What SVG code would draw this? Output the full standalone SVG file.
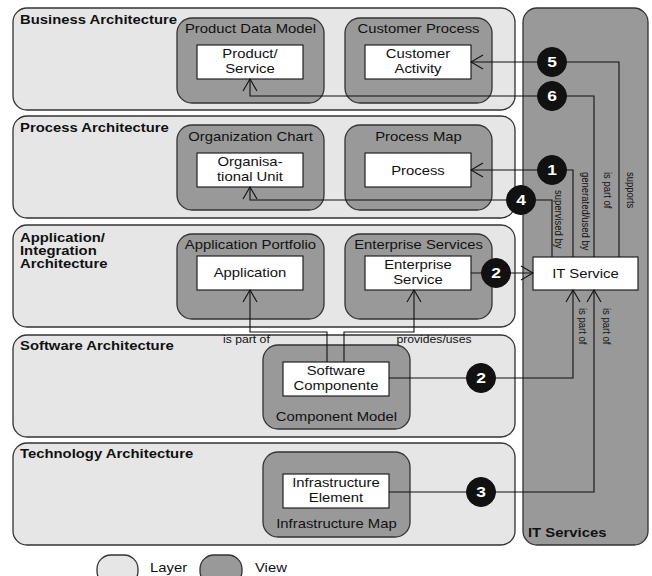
<svg xmlns="http://www.w3.org/2000/svg" width="652" height="576" viewBox="0 0 652 576">
<style>
.layer{fill:#e6e6e6;stroke:#333;stroke-width:1.3}
.view{fill:#999;stroke:#333;stroke-width:1.3}
.box{fill:#fff;stroke:#222;stroke-width:1.2}
.conn{fill:none;stroke:#111;stroke-width:1.1}
.dot{fill:#111;stroke:#111}
text{font-family:"Liberation Sans",Arial,Helvetica,sans-serif;fill:#111}
.t{font-size:12.8px;text-anchor:middle;transform-box:fill-box;transform-origin:center;transform:scaleX(1.16)}
.ttl{font-size:12.8px;font-weight:bold;transform-box:fill-box;transform-origin:0 50%;transform:scaleX(1.16)}
.leg{font-size:12.8px;transform-box:fill-box;transform-origin:0 50%;transform:scaleX(1.16)}
.lab{font-size:10.5px;text-anchor:middle;transform-box:fill-box;transform-origin:center;transform:scaleX(1.16)}
.rl{font-size:9.5px}
.num{font-size:15px;font-weight:bold;fill:#fff;text-anchor:middle;transform-box:fill-box;transform-origin:center;transform:scaleX(1.16)}
</style>
<defs>
<marker id="arr" viewBox="-14 -8 15 16" refX="0" refY="0" markerWidth="15" markerHeight="16" markerUnits="userSpaceOnUse" orient="auto">
<path d="M-12,-7 L0,0 L-12,7" fill="none" stroke="#111" stroke-width="1.1"/>
</marker>
</defs>

<g id="layer-business"><rect class="layer" x="13" y="8" width="502" height="102" rx="14"/><text class="ttl" x="20" y="24">Business Architecture</text></g>
<g id="layer-process"><rect class="layer" x="13" y="116" width="502" height="102" rx="14"/><text class="ttl" x="20" y="132">Process Architecture</text></g>
<g id="layer-application"><rect class="layer" x="13" y="225" width="502" height="102" rx="14"/><text class="ttl" x="20" y="242">Application/</text><text class="ttl" x="20" y="255">Integration</text><text class="ttl" x="20" y="268">Architecture</text></g>
<g id="layer-software"><rect class="layer" x="13" y="335" width="502" height="102" rx="14"/><text class="ttl" x="20" y="350">Software Architecture</text></g>
<g id="layer-technology"><rect class="layer" x="13" y="443" width="502" height="102" rx="14"/><text class="ttl" x="20" y="458">Technology Architecture</text></g>
<g id="it-services"><rect class="view" x="523" y="8" width="125" height="537" rx="14"/><text class="ttl" x="528" y="537">IT Services</text></g>

<g id="view-product-data-model"><rect class="view" x="177" y="18" width="147" height="85" rx="15"/><text class="t" x="250.5" y="33.5">Product Data Model</text></g>
<g id="view-customer-process"><rect class="view" x="345" y="18" width="147" height="85" rx="15"/><text class="t" x="418.5" y="33.5">Customer Process</text></g>
<g id="view-organization-chart"><rect class="view" x="177" y="125" width="147" height="85" rx="15"/><text class="t" x="250.5" y="141">Organization Chart</text></g>
<g id="view-process-map"><rect class="view" x="345" y="125" width="147" height="85" rx="15"/><text class="t" x="418.5" y="141">Process Map</text></g>
<g id="view-application-portfolio"><rect class="view" x="177" y="234" width="147" height="85" rx="15"/><text class="t" x="250.5" y="249">Application Portfolio</text></g>
<g id="view-enterprise-services"><rect class="view" x="345" y="234" width="147" height="85" rx="15"/><text class="t" x="418.5" y="249">Enterprise Services</text></g>
<g id="view-component-model"><rect class="view" x="263" y="345" width="147" height="84" rx="15"/><text class="t" x="336.5" y="421">Component Model</text></g>
<g id="view-infrastructure-map"><rect class="view" x="263" y="452" width="147" height="85" rx="15"/><text class="t" x="336.5" y="528">Infrastructure Map</text></g>

<g id="product-service"><rect class="box" x="197" y="45" width="106" height="34"/><text class="t" x="250" y="58">Product/</text><text class="t" x="250" y="73">Service</text></g>
<g id="customer-activity"><rect class="box" x="365" y="45" width="106" height="34"/><text class="t" x="418" y="58">Customer</text><text class="t" x="418" y="73">Activity</text></g>
<g id="organisational-unit"><rect class="box" x="197" y="153" width="106" height="34"/><text class="t" x="250" y="166">Organisa-</text><text class="t" x="250" y="181">tional Unit</text></g>
<g id="process"><rect class="box" x="365" y="153" width="106" height="34"/><text class="t" x="418" y="175">Process</text></g>
<g id="application"><rect class="box" x="197" y="256" width="106" height="34"/><text class="t" x="250" y="277">Application</text></g>
<g id="enterprise-service"><rect class="box" x="365" y="256" width="106" height="34"/><text class="t" x="418" y="269">Enterprise</text><text class="t" x="418" y="284">Service</text></g>
<g id="software-componente"><rect class="box" x="283" y="362" width="106" height="34"/><text class="t" x="336" y="375">Software</text><text class="t" x="336" y="390">Componente</text></g>
<g id="infrastructure-element"><rect class="box" x="283" y="474" width="106" height="34"/><text class="t" x="336" y="487">Infrastructure</text><text class="t" x="336" y="502">Element</text></g>
<g id="it-service"><rect class="box" x="533" y="257" width="105" height="33"/><text class="t" x="585.5" y="278">IT Service</text></g>

<g id="connectors">
<path class="conn" d="M619,257 V62 H471" marker-end="url(#arr)"/>
<path class="conn" d="M594,257 V96 H250 V79" marker-end="url(#arr)"/>
<path class="conn" d="M573,257 V170 H471" marker-end="url(#arr)"/>
<path class="conn" d="M552,257 V200 H250 V187" marker-end="url(#arr)"/>
<path class="conn" d="M471,273 H533" marker-end="url(#arr)"/>
<path class="conn" d="M389,378 H573 V290" marker-end="url(#arr)"/>
<path class="conn" d="M389,492 H594 V290" marker-end="url(#arr)"/>
<path class="conn" d="M327,362 V332 H250 V290" marker-end="url(#arr)"/>
<path class="conn" d="M344,362 V332 H414 V290" marker-end="url(#arr)"/>
<text class="lab" x="246.5" y="343">is part of</text>
<text class="lab" x="434" y="343">provides/uses</text>
<text class="rl" transform="translate(555,190) scale(1.16,1) rotate(90)">supervised by</text>
<text class="rl" transform="translate(582,172) scale(1.16,1) rotate(90)">generated/used by</text>
<text class="rl" transform="translate(604,172) scale(1.16,1) rotate(90)">is part of</text>
<text class="rl" transform="translate(627,172) scale(1.16,1) rotate(90)">supports</text>
<text class="rl" transform="translate(579,308) scale(1.16,1) rotate(90)">is part of</text>
<text class="rl" transform="translate(603,308) scale(1.16,1) rotate(90)">is part of</text>
<circle class="dot" cx="552" cy="62" r="14.5"/><text class="num" x="552" y="67.5">5</text>
<circle class="dot" cx="552" cy="96" r="14.5"/><text class="num" x="552" y="101.5">6</text>
<circle class="dot" cx="552" cy="170" r="14.5"/><text class="num" x="552" y="175.5">1</text>
<circle class="dot" cx="521" cy="200" r="14.5"/><text class="num" x="521" y="205.5">4</text>
<circle class="dot" cx="496" cy="273" r="14.5"/><text class="num" x="496" y="278.5">2</text>
<circle class="dot" cx="481" cy="378" r="14.5"/><text class="num" x="481" y="383.5">2</text>
<circle class="dot" cx="481" cy="492" r="14.5"/><text class="num" x="481" y="497.5">3</text>
</g>

<g id="legend">
<rect class="layer" x="97" y="555" width="41" height="30" rx="14"/><text class="leg" x="150" y="572">Layer</text>
<rect class="view" x="200" y="555" width="42" height="30" rx="14"/><text class="leg" x="255" y="572">View</text>
</g>
</svg>
